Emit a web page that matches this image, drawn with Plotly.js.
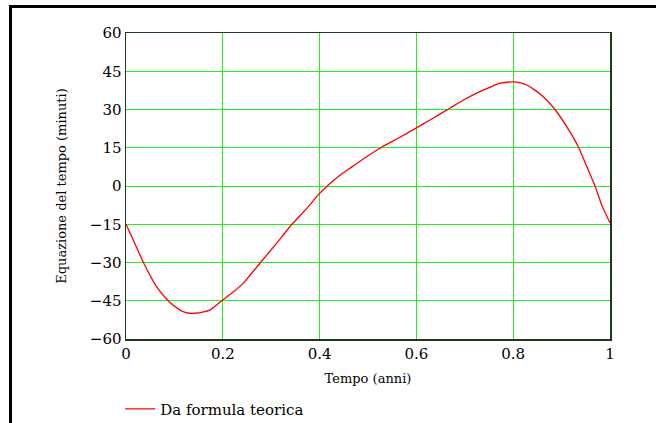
<!DOCTYPE html>
<html>
<head>
<meta charset="utf-8">
<script src="https://cdn.plot.ly/plotly-3.0.1.min.js"></script>
<style>
html,body{margin:0;padding:0;background:#fff;overflow:hidden;width:656px;height:423px;}
#wrap{position:relative;width:656px;height:423px;overflow:hidden;}
#chart{position:absolute;left:0;top:0;width:656px;height:423px;}
#frame{position:absolute;left:9px;top:5px;width:700px;height:500px;border-left:3px solid #000;border-top:3px solid #000;pointer-events:none;}
</style>
</head>
<body>
<div id="wrap"><div id="chart"></div><div id="frame"></div></div>
<script>
// Time (years) and equation of time (minutes)
var tempo = [0, 0.015, 0.036, 0.063, 0.087, 0.105, 0.118, 0.13, 0.143, 0.158, 0.174, 0.198, 0.22, 0.242, 0.277, 0.31, 0.342, 0.375, 0.397, 0.418, 0.44, 0.463, 0.495, 0.528, 0.566, 0.6, 0.628, 0.669, 0.7, 0.731, 0.755, 0.773, 0.8, 0.815, 0.828, 0.845, 0.862, 0.886, 0.917, 0.935, 0.952, 0.969, 0.983, 1.0];
var equazione = [-15, -21.2, -30, -39.5, -45, -47.8, -49.3, -49.9, -49.9, -49.5, -48.6, -45, -41.8, -38.2, -30.2, -22.7, -15.2, -8.5, -3.5, 0.4, 3.9, 7.0, 11.2, 15.2, 19.1, 22.8, 25.9, 30.5, 34.0, 37.0, 39.0, 40.3, 40.8, 40.4, 39.6, 37.6, 35.0, 30.1, 21.3, 15.2, 7.6, 0, -7.5, -14.5];
var seriesName = "Da formula teorica";
var yTicks = [-60, -45, -30, -15, 0, 15, 30, 45, 60];
var yTickText = ["\u221260", "\u221245", "\u221230", "\u221215", "0", "15", "30", "45", "60"];
var xTicks = [0, 0.2, 0.4, 0.6, 0.8, 1];
var xTickText = ["0", "0.2", "0.4", "0.6", "0.8", "1"];

var serif = "DejaVu Serif";
var trace = {
  x: tempo, y: equazione, name: seriesName, type: "scatter", mode: "lines",
  line: {color: "#ff0000", width: 1.3, shape: "spline", smoothing: 0.5}
};
var layout = {
  width: 656, height: 423,
  margin: {l: 126, r: 46, t: 33, b: 84, autoexpand: false},
  paper_bgcolor: "#ffffff", plot_bgcolor: "#ffffff",
  font: {family: serif, color: "#000000", size: 15},
  showlegend: true,
  legend: {x: -0.012, y: -0.175, xanchor: "left", yanchor: "top", orientation: "v",
           font: {family: serif, size: 15, color: "#000"}, bgcolor: "rgba(0,0,0,0)", borderwidth: 0},
  xaxis: {
    range: [0, 1], tickvals: xTicks, ticktext: xTickText,
    showgrid: true, gridcolor: "#22ee22", gridwidth: 1,
    zeroline: false, showline: true, mirror: true, linecolor: "#1c3a1c", linewidth: 1.5,
    ticks: "", tickfont: {family: serif, size: 15, color: "#000"},
    title: {text: "Tempo (anni)", font: {family: serif, size: 13, color: "#000"}, standoff: 12}
  },
  yaxis: {
    range: [-60, 60], tickvals: yTicks, ticktext: yTickText,
    showgrid: true, gridcolor: "#22ee22", gridwidth: 1,
    zeroline: false, showline: true, mirror: true, linecolor: "#1c3a1c", linewidth: 1.5,
    ticks: "", tickfont: {family: serif, size: 15, color: "#000"},
    title: {text: "Equazione del tempo (minuti)", font: {family: serif, size: 13, color: "#000"}, standoff: 20}
  }
};
Plotly.newPlot("chart", [trace], layout, {displayModeBar: false, staticPlot: true});
</script>
</body>
</html>
